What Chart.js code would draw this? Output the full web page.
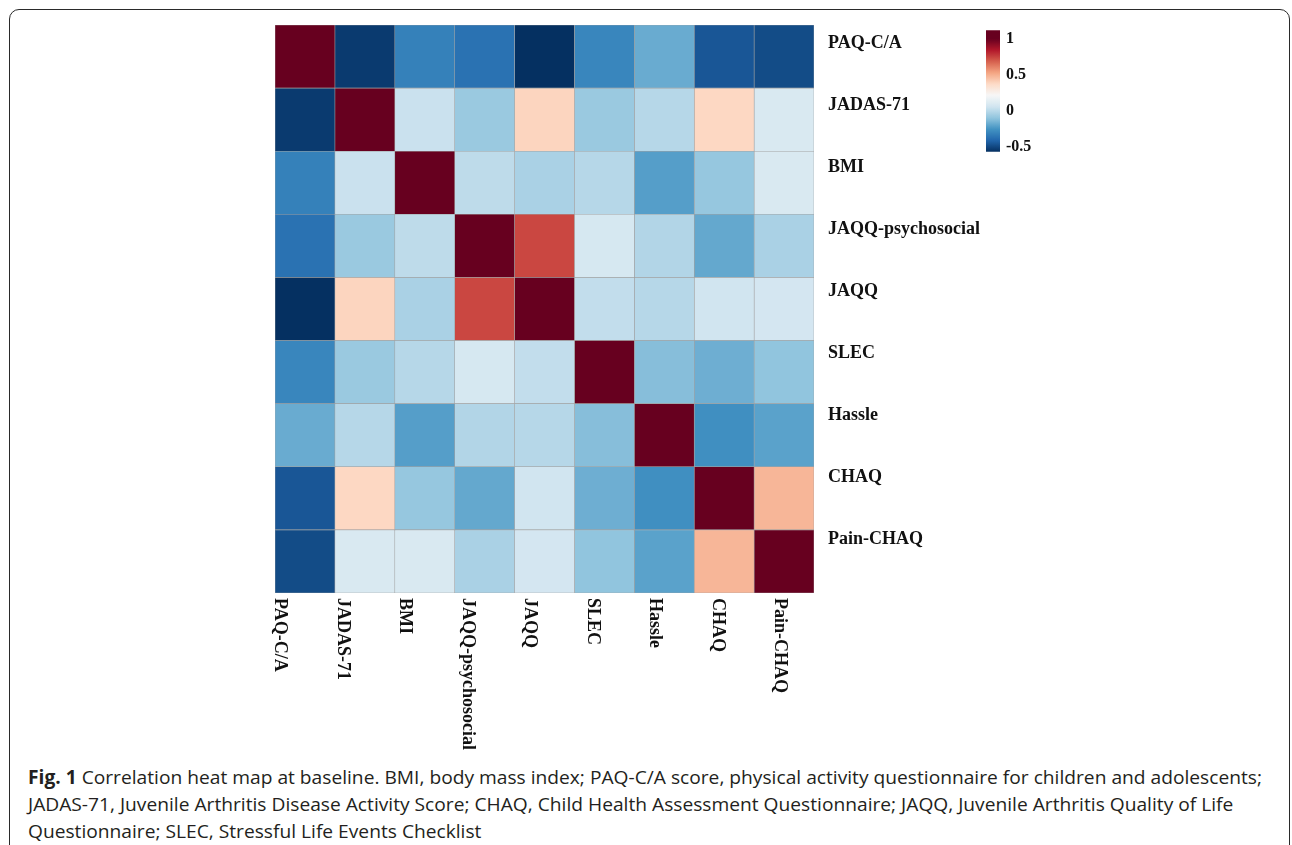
<!DOCTYPE html>
<html>
<head>
<meta charset="utf-8">
<title>Correlation heat map at baseline</title>
<script src="https://cdn.jsdelivr.net/npm/chart.js@4/dist/chart.umd.min.js"></script>
<style>
  html, body { margin: 0; padding: 0; background: #fff; width: 1292px; height: 845px; overflow: hidden; }
  .frame { position: absolute; left: 9px; top: 9px; width: 1281px; height: 900px;
           border: 1.5px solid #2a2a2a; border-radius: 10px; box-sizing: border-box; }
  #heat { position: absolute; left: 0; top: 0; }
  #scale { position: absolute; left: 975px; top: 21px; }
  .caption { position: absolute; left: 28px; top: 764px; font-family: "Open Sans", sans-serif;
             font-size: 19px; line-height: 27px; color: #231f20; white-space: nowrap; }
  .caption div { transform-origin: 0 50%; width: max-content; }
  .caption b { font-weight: 700; }
</style>
</head>
<body>
<div class="frame"></div>
<canvas id="heat" width="1292" height="760"></canvas>
<canvas id="scale" width="75" height="145"></canvas>
<div class="caption">
  <div><b>Fig. 1</b> Correlation heat map at baseline. BMI, body mass index; PAQ-C/A score, physical activity questionnaire for children and adolescents;</div>
  <div>JADAS-71, Juvenile Arthritis Disease Activity Score; CHAQ, Child Health Assessment Questionnaire; JAQQ, Juvenile Arthritis Quality of Life</div>
  <div>Questionnaire; SLEC, Stressful Life Events Checklist</div>
</div>
<script>
// Variables, in the same order for rows (top to bottom) and columns (left to right)
const variables = ['PAQ-C/A', 'JADAS-71', 'BMI', 'JAQQ-psychosocial', 'JAQQ', 'SLEC', 'Hassle', 'CHAQ', 'Pain-CHAQ'];

// Pearson correlations, one row per variable
const rPAQ    = [ 1.00, -0.54, -0.32, -0.37, -0.57, -0.30, -0.18, -0.46, -0.49];
const rJADAS  = [-0.54,  1.00,  0.04, -0.08,  0.39, -0.08, -0.01,  0.38,  0.09];
const rBMI    = [-0.32,  0.04,  1.00,  0.01, -0.04, -0.01, -0.22, -0.09,  0.09];
const rJAQQps = [-0.37, -0.08,  0.01,  1.00,  0.74,  0.08, -0.02, -0.19, -0.04];
const rJAQQ   = [-0.57,  0.39, -0.04,  0.74,  1.00,  0.02, -0.01,  0.06,  0.07];
const rSLEC   = [-0.30, -0.08, -0.01,  0.08,  0.02,  1.00, -0.12, -0.17, -0.10];
const rHassle = [-0.18, -0.01, -0.22, -0.02, -0.01, -0.12,  1.00, -0.27, -0.21];
const rCHAQ   = [-0.46,  0.38, -0.09, -0.19,  0.06, -0.17, -0.27,  1.00,  0.48];
const rPain   = [-0.49,  0.09,  0.09, -0.04,  0.07, -0.10, -0.21,  0.48,  1.00];

// Colour legend ticks and the upper end of the legend bar
const legendTicks = [-0.5, 0, 0.5, 1];
const legendTop = 1.12;

const corr = [rPAQ, rJADAS, rBMI, rJAQQps, rJAQQ, rSLEC, rHassle, rCHAQ, rPain];

// Diverging RdBu palette, stretched over the range of the data
const palette = ['#053061', '#2166ac', '#4393c3', '#92c5de', '#d1e5f0', '#f7f7f7',
                 '#fddbc7', '#f4a582', '#d6604d', '#b2182b', '#67001f'];
const vMin = Math.min(...corr.flat());
const vMax = Math.max(...corr.flat());
const hexRgb = h => [1, 3, 5].map(k => parseInt(h.slice(k, k + 2), 16));
const paletteRgb = palette.map(hexRgb);
function colorFor(v) {
  const t = Math.min(1, Math.max(0, (v - vMin) / (vMax - vMin))) * (palette.length - 1);
  const i = Math.min(palette.length - 2, Math.floor(t));
  const f = t - i;
  const a = paletteRgb[i], b = paletteRgb[i + 1];
  const c = a.map((x, k) => Math.round(x + (b[k] - x) * f));
  return `rgb(${c[0]},${c[1]},${c[2]})`;
}

const labelFont = { family: '"Liberation Serif", "Times New Roman", serif', weight: 'bold', size: 18 };

// Heat map: one floating-bar dataset per column, one category per row
const nameAxisWidth = 200;
const datasets = variables.map((col, j) => ({
  label: col,
  data: variables.map(() => [j, j + 1]),
  backgroundColor: variables.map((row, i) => colorFor(corr[i][j])),
  borderColor: '#a2a2a2',
  borderWidth: 0.6,
  borderSkipped: false,
  barPercentage: 1,
  categoryPercentage: 1,
  grouped: false
}));

// Column names written downward beneath the grid
const columnLabels = {
  id: 'columnLabels',
  afterDraw(chart) {
    const { ctx, chartArea, scales: { x } } = chart;
    ctx.save();
    ctx.font = `bold ${labelFont.size}px ${labelFont.family}`;
    ctx.fillStyle = '#111';
    ctx.textAlign = 'left';
    ctx.textBaseline = 'middle';
    variables.forEach((name, j) => {
      const px = x.getPixelForValue(0.083 + 1.043 * j);
      ctx.save();
      ctx.translate(px, chartArea.bottom + 5);
      ctx.rotate(Math.PI / 2);
      ctx.fillText(name, 0, 0);
      ctx.restore();
    });
    ctx.restore();
  }
};

new Chart(document.getElementById('heat'), {
  type: 'bar',
  data: { labels: variables, datasets },
  options: {
    indexAxis: 'y',
    responsive: false,
    animation: false,
    events: [],
    layout: { padding: { left: 275, top: 25, right: 1292 - 814 - nameAxisWidth, bottom: 760 - 593 } },
    plugins: { legend: { display: false }, tooltip: { enabled: false } },
    scales: {
      x: { type: 'linear', min: 0, max: variables.length, display: false },
      y: { type: 'category', offset: true, display: false },
      // row names, spaced a little tighter than the rows themselves
      names: {
        type: 'linear',
        axis: 'y',
        position: 'right',
        reverse: true,
        offset: false,
        min: -0.29,
        max: 8.857,
        grid: { display: false, drawTicks: false },
        border: { display: false },
        afterBuildTicks(axis) { axis.ticks = variables.map((n, i) => ({ value: i })); },
        ticks: {
          font: labelFont,
          color: '#111',
          padding: 14,
          callback: v => variables[v]
        },
        afterFit(axis) { axis.width = nameAxisWidth; axis.paddingTop = 0; axis.paddingBottom = 0; }
      }
    }
  },
  plugins: [columnLabels]
});

// Colour legend: one bar filled with the palette along a linear value axis
const legendAxisWidth = 50;
new Chart(document.getElementById('scale'), {
  type: 'bar',
  data: {
    labels: [''],
    datasets: [{
      data: [[vMin, legendTop]],
      barPercentage: 1,
      categoryPercentage: 1,
      borderWidth: 0,
      backgroundColor(context) {
        const chart = context.chart;
        const y = chart.scales.y;
        if (!chart.chartArea || !y) return '#ccc';
        const y0 = y.getPixelForValue(vMin), y1 = y.getPixelForValue(legendTop);
        const g = chart.ctx.createLinearGradient(0, y0, 0, y1);
        const n = 60;
        for (let k = 0; k <= n; k++) {
          const v = vMin + (legendTop - vMin) * k / n;
          g.addColorStop(k / n, colorFor(v));
        }
        return g;
      }
    }]
  },
  options: {
    responsive: false,
    animation: false,
    events: [],
    layout: { padding: { left: 11, top: 9.3, right: 75 - 11 - 14 - legendAxisWidth, bottom: 14.3 } },
    plugins: { legend: { display: false }, tooltip: { enabled: false } },
    scales: {
      x: { display: false },
      y: {
        type: 'linear',
        position: 'right',
        min: vMin,
        max: legendTop,
        grid: { display: false, drawTicks: false },
        border: { display: false },
        afterBuildTicks(axis) { axis.ticks = legendTicks.map(v => ({ value: v })); },
        ticks: {
          font: { family: labelFont.family, weight: 'bold', size: 16 },
          color: '#111',
          padding: 6,
          callback: v => String(v)
        },
        afterFit(axis) { axis.width = legendAxisWidth; axis.paddingTop = 0; axis.paddingBottom = 0; }
      }
    }
  }
});

// Caption set in a narrowed face: one horizontal scale for every line
const captionLines = document.querySelectorAll('.caption div');
const firstWidth = captionLines[0].getBoundingClientRect().width;
const squeeze = firstWidth > 0 ? 1234 / firstWidth : 1;
captionLines.forEach(line => { line.style.transform = `scaleX(${squeeze})`; });
</script>
</body>
</html>
